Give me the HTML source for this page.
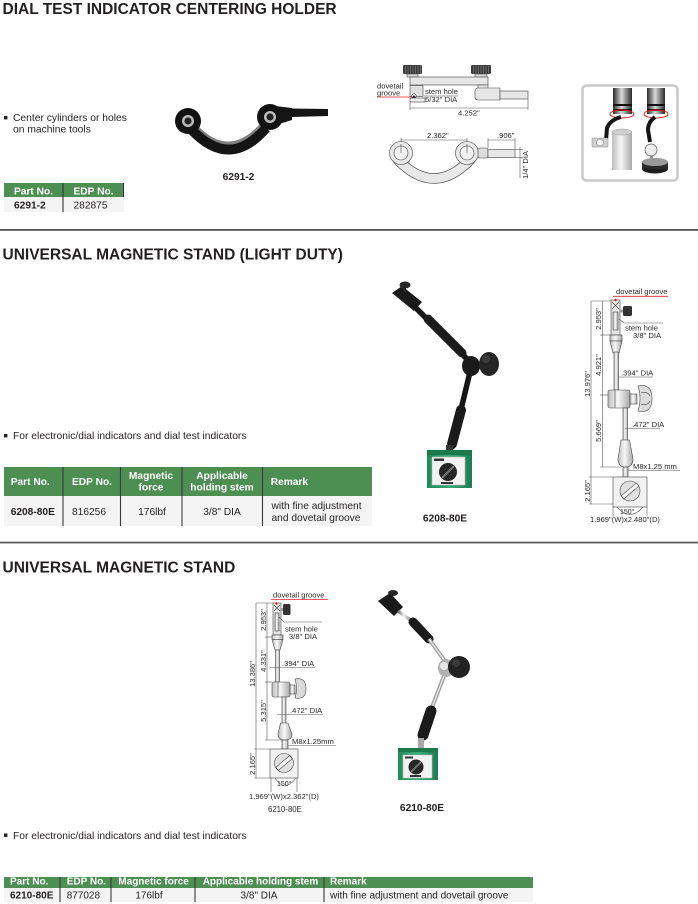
<!DOCTYPE html>
<html><head><meta charset="utf-8">
<style>
html,body{margin:0;padding:0;background:#fff;}
svg{display:block;}
text{font-family:"Liberation Sans",Arial,sans-serif;fill:#231f20;}
.t{font-size:15.5px;font-weight:bold;}
.b{font-size:10.3px;}
.th{font-size:10.2px;font-weight:bold;fill:#fff;}
.td{font-size:10.2px;}
.tdb{font-size:10.2px;font-weight:bold;}
.d{font-size:7.6px;fill:#2a2a2a;}
.dl{stroke:#555;stroke-width:0.6;fill:none;}
.ol{stroke:#444;stroke-width:0.6;}
</style></head><body>
<svg width="698" height="904" viewBox="0 0 698 904" xmlns="http://www.w3.org/2000/svg">
<defs>
 <linearGradient id="pole" x1="0" x2="1" y1="0" y2="0">
  <stop offset="0" stop-color="#bdbdbd"/><stop offset=".45" stop-color="#f7f7f7"/><stop offset="1" stop-color="#a8a8a8"/>
 </linearGradient>
 <linearGradient id="chrome" x1="0" x2="1" y1="0" y2="0">
  <stop offset="0" stop-color="#6e6e6e"/><stop offset=".4" stop-color="#f2f2f2"/><stop offset=".75" stop-color="#a0a0a0"/><stop offset="1" stop-color="#5a5a5a"/>
 </linearGradient>
 <linearGradient id="dark" x1="0" x2="1" y1="0" y2="0">
  <stop offset="0" stop-color="#2a2a2a"/><stop offset=".45" stop-color="#d8d8d8"/><stop offset="1" stop-color="#2a2a2a"/>
 </linearGradient>
 <linearGradient id="green" x1="0" x2="1" y1="0" y2="0">
  <stop offset="0" stop-color="#1f8a58"/><stop offset=".5" stop-color="#3aab78"/><stop offset="1" stop-color="#1c7d4f"/>
 </linearGradient>
</defs>

<!-- ===== SECTION 1 ===== -->
<text x="2.5" y="14" class="t">DIAL TEST INDICATOR CENTERING HOLDER</text>

<rect x="4" y="116" width="3.4" height="3.4" fill="#231f20"/>
<text x="13" y="121" class="b">Center cylinders or holes</text>
<text x="13" y="132.5" class="b">on machine tools</text>

<!-- table 1 -->
<rect x="4" y="183" width="120" height="14" fill="#4d8e53"/>
<rect x="4" y="197" width="120" height="15" fill="#f4f4f4"/>
<line x1="63" y1="183" x2="63" y2="212" stroke="#333" stroke-width="1.1"/>
<line x1="123.5" y1="183" x2="123.5" y2="197" stroke="#333" stroke-width="1"/>
<text x="14" y="194.3" class="th">Part No.</text>
<text x="73.5" y="194.3" class="th">EDP No.</text>
<text x="14" y="208.3" class="tdb">6291-2</text>
<text x="73.5" y="208.3" class="td">282875</text>

<!-- centering holder photo -->
<g>
 <path d="M192 130 Q230 170 266 128" stroke="#141414" stroke-width="10" fill="none"/>
 <path d="M198 128 Q230 160 262 124" stroke="#2a2a2a" stroke-width="3" fill="none" opacity=".6"/>
 <circle cx="188" cy="121" r="13" fill="#121212"/>
 <circle cx="188" cy="121" r="6" fill="#bdbdbd"/>
 <circle cx="188" cy="121" r="3.6" fill="#222"/>
 <circle cx="270" cy="117" r="13" fill="#121212"/>
 <circle cx="270" cy="117" r="6" fill="#bdbdbd"/>
 <circle cx="270" cy="117" r="3.6" fill="#222"/>
 <path d="M275 106 L292 108 L292 120 L279 124 Z" fill="#151515"/>
 <path d="M291 108.5 L328 109 L328 116 L291 117 Z" fill="#151515"/>
</g>
<text x="238.5" y="180" class="tdb" text-anchor="middle">6291-2</text>

<!-- top technical drawing -->
<g>
 <!-- knobs -->
 <rect x="403" y="65" width="19" height="9" rx="1.5" fill="#3a3a3a"/>
 <g stroke="#999" stroke-width="0.5">
  <line x1="405.5" y1="65.5" x2="405.5" y2="73.5"/><line x1="408" y1="65.5" x2="408" y2="73.5"/><line x1="410.5" y1="65.5" x2="410.5" y2="73.5"/><line x1="413" y1="65.5" x2="413" y2="73.5"/><line x1="415.5" y1="65.5" x2="415.5" y2="73.5"/><line x1="418" y1="65.5" x2="418" y2="73.5"/><line x1="420.5" y1="65.5" x2="420.5" y2="73.5"/>
 </g>
 <rect x="471" y="65" width="20" height="9" rx="1.5" fill="#3a3a3a"/>
 <g stroke="#999" stroke-width="0.5">
  <line x1="473.5" y1="65.5" x2="473.5" y2="73.5"/><line x1="476" y1="65.5" x2="476" y2="73.5"/><line x1="478.5" y1="65.5" x2="478.5" y2="73.5"/><line x1="481" y1="65.5" x2="481" y2="73.5"/><line x1="483.5" y1="65.5" x2="483.5" y2="73.5"/><line x1="486" y1="65.5" x2="486" y2="73.5"/><line x1="488.5" y1="65.5" x2="488.5" y2="73.5"/>
 </g>
 <rect x="407" y="74" width="11" height="3" fill="#ddd" class="ol"/>
 <rect x="475" y="74" width="12" height="3" fill="#ddd" class="ol"/>
 <rect x="410" y="77" width="78" height="8" fill="#e6e6e6" class="ol"/>
 <rect x="478" y="85" width="10" height="4" fill="#e6e6e6" class="ol"/>
 <rect x="410" y="85.5" width="13" height="11" fill="#e0e0e0" class="ol"/>
 <circle cx="414" cy="96" r="2.2" fill="#fff" stroke="#333" stroke-width="0.6"/>
 <path d="M411.5 98 L416.5 98 L414 95 Z" fill="#333"/>
 <rect x="410" y="98" width="15" height="4" fill="#eee" class="ol"/>
 <path d="M478 88 L500 88 L500 100 L478 100 Q475 100 475 97 L475 91 Q475 88 478 88 Z" fill="#e6e6e6" class="ol"/>
 <rect x="500" y="91" width="28" height="8" fill="#e6e6e6" class="ol"/>
 <line x1="377" y1="97" x2="413" y2="97" stroke="#e0202a" stroke-width="0.8"/>
 <text x="377" y="88.5" class="d" fill="#4a2c2a">dovetail</text>
 <text x="377" y="95.3" class="d">groove</text>
 <text x="425" y="94" class="d">stem hole</text>
 <line x1="424" y1="96" x2="458" y2="96" stroke="#333" stroke-width="0.5"/>
 <text x="425" y="102" class="d">5/32" DIA</text>
 <line x1="410" y1="108" x2="528" y2="108" class="dl"/>
 <line x1="410" y1="102" x2="410" y2="110" class="dl"/>
 <line x1="528" y1="99" x2="528" y2="110" class="dl"/>
 <text x="458" y="115.5" class="d">4.252"</text>

 <!-- bottom view -->
 <line x1="401" y1="140" x2="467" y2="140" class="dl"/>
 <line x1="401" y1="138" x2="401" y2="152" class="dl"/>
 <line x1="467" y1="138" x2="467" y2="152" class="dl"/>
 <text x="427" y="138" class="d">2.362"</text>
 <path d="M397 159 Q434 198 471 159" stroke="#555" stroke-width="10.5" fill="none"/>
 <path d="M397 159 Q434 198 471 159" stroke="#e8e8e8" stroke-width="9" fill="none"/>
 <circle cx="401" cy="153" r="11.5" fill="#e8e8e8" class="ol"/>
 <circle cx="401" cy="153" r="7" fill="#f2f2f2" class="ol"/>
 <line x1="401" y1="144" x2="401" y2="153" class="ol"/>
 <circle cx="467" cy="153" r="11.5" fill="#e8e8e8" class="ol"/>
 <circle cx="467" cy="153" r="7" fill="#f2f2f2" class="ol"/>
 <line x1="467" y1="144" x2="467" y2="153" class="ol"/>
 <rect x="478" y="148" width="10" height="10" rx="2" fill="#ddd" class="ol"/>
 <rect x="488" y="149.5" width="27" height="8" fill="#e8e8e8" class="ol"/>
 <line x1="488" y1="140" x2="515" y2="140" class="dl"/>
 <line x1="488" y1="138" x2="488" y2="148" class="dl"/>
 <line x1="515" y1="138" x2="515" y2="149" class="dl"/>
 <text x="497" y="138" class="d">.906"</text>
 <line x1="515" y1="149.5" x2="523" y2="149.5" class="dl"/>
 <line x1="515" y1="157.5" x2="523" y2="157.5" class="dl"/>
 <line x1="520" y1="147" x2="520" y2="178" class="dl"/>
 <text transform="translate(528 165) rotate(-90)" class="d" text-anchor="middle">1/4" DIA</text>
</g>

<!-- top right photo box -->
<g>
 <rect x="582.5" y="85.5" width="95" height="95" rx="4" fill="#fff" stroke="#c8c8c8" stroke-width="2.5"/>
 <rect x="613" y="88" width="19" height="26" fill="url(#dark)"/>
 <rect x="613" y="104" width="19" height="2" fill="#111"/>
 <rect x="613" y="109" width="19" height="2" fill="#111"/>
 <ellipse cx="622" cy="114" rx="12" ry="4" fill="none" stroke="#e02020" stroke-width="1"/>
 <rect x="647" y="88" width="18" height="26" fill="url(#dark)"/>
 <rect x="647" y="104" width="18" height="2" fill="#111"/>
 <rect x="647" y="109" width="18" height="2" fill="#111"/>
 <ellipse cx="656" cy="114" rx="12" ry="4" fill="none" stroke="#e02020" stroke-width="1"/>
 <path d="M621 117 Q610 120 607 128 L606 140" stroke="#151515" stroke-width="4" fill="none"/>
 <rect x="612" y="132" width="20" height="38" fill="url(#pole)"/>
 <ellipse cx="622" cy="132" rx="10" ry="3" fill="#cfcfcf" stroke="#999" stroke-width="0.5"/>
 <rect x="592" y="138" width="16" height="9" rx="1" fill="#d0d0d0" stroke="#888" stroke-width="0.5"/>
 <circle cx="600" cy="142.5" r="3.5" fill="#f4f4f4" stroke="#666" stroke-width="0.5"/>
 <path d="M655 117 Q648 122 648 130 L650 142" stroke="#151515" stroke-width="4" fill="none"/>
 <rect x="650" y="154" width="3" height="10" fill="#999"/>
 <circle cx="651" cy="150" r="6" fill="#eee" stroke="#555" stroke-width="0.7"/>
 <ellipse cx="655" cy="169" rx="13" ry="4.5" fill="#1e1e1e"/>
 <rect x="642" y="162" width="26" height="7" fill="#2a2a2a"/>
 <ellipse cx="655" cy="162" rx="13" ry="4" fill="#9a9a9a"/>
</g>

<rect x="0" y="229" width="698" height="1.8" fill="#555"/>

<!-- ===== SECTION 2 ===== -->
<text x="2.5" y="259.3" class="t">UNIVERSAL MAGNETIC STAND (LIGHT DUTY)</text>

<rect x="4" y="434" width="3.4" height="3.4" fill="#231f20"/>
<text x="13" y="439" class="b">For electronic/dial indicators and dial test indicators</text>

<!-- table 2 -->
<rect x="4" y="467" width="368" height="29" fill="#4d8e53"/>
<rect x="4" y="496" width="368" height="30" fill="#f4f4f4"/>
<g stroke="#3a3a3a" stroke-width="1.1">
 <line x1="63" y1="467" x2="63" y2="526"/>
 <line x1="120.5" y1="467" x2="120.5" y2="526"/>
 <line x1="182" y1="467" x2="182" y2="526"/>
 <line x1="262.5" y1="467" x2="262.5" y2="526"/>
</g>
<text x="10.7" y="485" class="th">Part No.</text>
<text x="72" y="485" class="th">EDP No.</text>
<text x="151" y="479" class="th" text-anchor="middle">Magnetic</text>
<text x="151" y="490.7" class="th" text-anchor="middle">force</text>
<text x="222" y="479" class="th" text-anchor="middle">Applicable</text>
<text x="222" y="490.7" class="th" text-anchor="middle">holding stem</text>
<text x="270.7" y="485" class="th">Remark</text>
<text x="10.7" y="515" class="tdb">6208-80E</text>
<text x="72" y="515" class="td">816256</text>
<text x="152" y="515" class="td" text-anchor="middle">176lbf</text>
<text x="222" y="515" class="td" text-anchor="middle">3/8" DIA</text>
<text x="271.5" y="509" class="td">with fine adjustment</text>
<text x="271.5" y="521" class="td">and dovetail groove</text>

<!-- photo 6208-80E -->
<g>
 <path d="M392 293 L402 286 L422 302 L414 311 Z" fill="#1a1a1a"/>
 <ellipse cx="405" cy="285" rx="5.5" ry="3.5" fill="#262626"/>
 <rect x="403" y="287" width="3" height="5" fill="#222"/>
 <line x1="414" y1="306" x2="468" y2="360" stroke="#151515" stroke-width="5.5" stroke-linecap="round"/>
 <line x1="428" y1="319" x2="462" y2="353" stroke="#1b1b1b" stroke-width="9" stroke-linecap="round"/>
 <line x1="470" y1="372" x2="452" y2="447" stroke="#151515" stroke-width="5.5" stroke-linecap="round"/>
 <line x1="461" y1="410" x2="452" y2="444" stroke="#1b1b1b" stroke-width="10" stroke-linecap="round"/>
 <ellipse cx="471" cy="366" rx="9" ry="10" fill="#1a1a1a"/>
 <ellipse cx="489" cy="364" rx="10" ry="12" fill="#252525"/>
 <ellipse cx="486" cy="359" rx="4" ry="4" fill="#3c3c3c"/>
 <rect x="446" y="445" width="7" height="6" fill="#333"/>
 <rect x="427" y="450" width="45" height="38" fill="url(#green)"/>
 <rect x="427" y="450" width="45" height="5" fill="#1b7a4c"/>
 <rect x="432" y="457" width="33" height="28" fill="#f2f2f2" stroke="#bdbdbd" stroke-width="0.6"/>
 <rect x="434" y="458.5" width="10" height="2.5" fill="#333"/>
 <circle cx="448" cy="472" r="9" fill="#262626"/>
 <line x1="442" y1="478" x2="454" y2="466" stroke="#777" stroke-width="2"/>
 <rect x="441" y="482" width="12" height="2" fill="#333"/>
</g>
<text x="445" y="521.5" class="tdb" text-anchor="middle">6208-80E</text>

<!-- drawing 6208-80E -->
<g>
 <text x="616" y="294" class="d">dovetail groove</text>
 <line x1="613" y1="296.3" x2="668" y2="296.3" stroke="#e0202a" stroke-width="0.8"/>
 <line x1="591" y1="301" x2="611" y2="301" class="dl"/>
 <line x1="591" y1="301" x2="591" y2="504" class="dl"/>
 <line x1="589" y1="504" x2="613" y2="504" class="dl"/>
 <line x1="589" y1="477" x2="613" y2="477" class="dl"/>
 <text transform="translate(589.8 384) rotate(-90)" class="d" text-anchor="middle">13.976"</text>
 <text transform="translate(589.8 491) rotate(-90)" class="d" text-anchor="middle">2.165"</text>
 <line x1="602.5" y1="301" x2="602.5" y2="467" class="dl"/>
 <line x1="600" y1="335" x2="611" y2="335" class="dl"/>
 <line x1="600" y1="395" x2="608" y2="395" class="dl"/>
 <line x1="600" y1="467" x2="622" y2="467" class="dl"/>
 <text transform="translate(601.2 319) rotate(-90)" class="d" text-anchor="middle">2.953"</text>
 <text transform="translate(601.2 365) rotate(-90)" class="d" text-anchor="middle">4.921"</text>
 <text transform="translate(601.2 431) rotate(-90)" class="d" text-anchor="middle">5.669"</text>
 <!-- clamp -->
 <rect x="611" y="300" width="9" height="35" fill="#e6e6e6" class="ol"/>
 <path d="M612 302 L619 309 M619 302 L612 309" class="ol"/>
 <circle cx="615.5" cy="300" r="1.2" fill="#e0202a"/>
 <rect x="613" y="312" width="5" height="18" fill="url(#pole)" class="ol"/>
 <rect x="620" y="309.5" width="3" height="3" fill="#999"/>
 <rect x="623" y="306" width="9" height="10" rx="1.5" fill="#333"/>
 <path d="M619 319 L624 323 L663 323" class="dl"/>
 <text x="625" y="330.5" class="d">stem  hole</text>
 <text x="633" y="337.8" class="d">3/8" DIA</text>
 <!-- upper joint -->
 <rect x="610" y="335" width="12" height="6" fill="url(#pole)" class="ol"/>
 <path d="M610 341 L622 341 L619 353 L613 353 Z" fill="url(#pole)" class="ol"/>
 <rect x="614" y="352" width="4.5" height="38" fill="url(#pole)" class="ol"/>
 <line x1="618" y1="377" x2="653" y2="377" class="dl"/>
 <text x="621" y="375.5" class="d">.394" DIA</text>
 <!-- center block -->
 <rect x="608" y="390" width="22" height="18" rx="2" fill="url(#pole)" class="ol"/>
 <line x1="615" y1="390" x2="615" y2="408" class="ol"/>
 <rect x="630" y="394" width="7" height="10" fill="url(#pole)" class="ol"/>
 <path d="M638 386 Q652 383 652 398.5 Q652 414 638 411 Q642 398.5 638 386 Z" fill="#dcdcdc" class="ol"/>
 <path d="M641 393 Q648 391 650 396 M641 404 Q648 406 650 401" class="ol" fill="none"/>
 <rect x="623" y="408" width="4.5" height="32" fill="url(#pole)" class="ol"/>
 <line x1="625" y1="428.5" x2="660" y2="428.5" class="dl"/>
 <text x="632" y="427" class="d">.472" DIA</text>
 <path d="M621 440 L629.5 440 L633 459 Q633 467 625.5 467 Q618 467 618 459 Z" fill="url(#pole)" class="ol"/>
 <rect x="623" y="467" width="5" height="10" fill="url(#pole)" class="ol"/>
 <line x1="628" y1="470.5" x2="680" y2="470.5" class="dl"/>
 <text x="633" y="469" class="d">M8x1.25 mm</text>
 <!-- base -->
 <rect x="613" y="477" width="34" height="30" fill="#f2f2f2" class="ol"/>
 <circle cx="630" cy="491" r="10" fill="#e0e0e0" class="ol"/>
 <g transform="rotate(-40 630 491)"><rect x="620" y="489" width="20" height="4" fill="#f7f7f7" class="ol"/></g>
 <path d="M617 507 Q630 522 643 507" class="dl"/>
 <line x1="613" y1="507" x2="613" y2="516" class="dl"/>
 <line x1="647" y1="507" x2="647" y2="516" class="dl"/>
 <text x="620" y="514" class="d" style="font-size:7px">150°</text>
 <text x="590" y="522" class="d">1.969"(W)x2.480"(D)</text>
</g>

<rect x="0" y="541.7" width="698" height="1.7" fill="#555"/>

<!-- ===== SECTION 3 ===== -->
<text x="2.5" y="572.3" class="t">UNIVERSAL MAGNETIC STAND</text>

<!-- drawing 6210-80E -->
<g>
 <text x="273" y="597.5" class="d">dovetail groove</text>
 <line x1="271" y1="599.6" x2="328" y2="599.6" stroke="#e0202a" stroke-width="0.8"/>
 <line x1="256" y1="603" x2="273" y2="603" class="dl"/>
 <line x1="256" y1="603" x2="256" y2="778" class="dl"/>
 <line x1="254" y1="749" x2="271" y2="749" class="dl"/>
 <line x1="254" y1="778" x2="271" y2="778" class="dl"/>
 <text transform="translate(255 674) rotate(-90)" class="d" text-anchor="middle">13.386"</text>
 <text transform="translate(255 764) rotate(-90)" class="d" text-anchor="middle">2.165"</text>
 <line x1="267" y1="603" x2="267" y2="740" class="dl"/>
 <line x1="265" y1="637" x2="274" y2="637" class="dl"/>
 <line x1="265" y1="682" x2="272" y2="682" class="dl"/>
 <line x1="265" y1="740" x2="282" y2="740" class="dl"/>
 <text transform="translate(266 620) rotate(-90)" class="d" text-anchor="middle">2.953"</text>
 <text transform="translate(266 661) rotate(-90)" class="d" text-anchor="middle">4.331"</text>
 <text transform="translate(266 711) rotate(-90)" class="d" text-anchor="middle">5.315"</text>
 <!-- clamp -->
 <rect x="273" y="603" width="8" height="32" fill="#e6e6e6" class="ol"/>
 <path d="M274 605 L280 611 M280 605 L274 611" class="ol"/>
 <circle cx="276.5" cy="603.5" r="1.2" fill="#e0202a"/>
 <rect x="275" y="613" width="4" height="18" fill="url(#pole)" class="ol"/>
 <rect x="281" y="608" width="2.5" height="3" fill="#999"/>
 <rect x="283" y="604" width="7.5" height="11" rx="1.5" fill="#333"/>
 <path d="M279 617 L284 622 L322 622" class="dl"/>
 <text x="285" y="631.5" class="d">stem  hole</text>
 <text x="289" y="638.8" class="d">3/8" DIA</text>
 <rect x="272" y="635" width="11" height="4.5" fill="url(#pole)" class="ol"/>
 <path d="M272 639.5 L283 639.5 L280 650 L275 650 Z" fill="url(#pole)" class="ol"/>
 <rect x="275.5" y="650" width="4" height="32" fill="url(#pole)" class="ol"/>
 <line x1="270" y1="667.5" x2="315" y2="667.5" class="dl"/>
 <text x="282" y="666" class="d">.394" DIA</text>
 <rect x="272" y="682" width="18" height="15" rx="2" fill="url(#pole)" class="ol"/>
 <line x1="278" y1="682" x2="278" y2="697" class="ol"/>
 <rect x="290" y="685" width="5" height="9" fill="url(#pole)" class="ol"/>
 <path d="M295 679 Q306 677 306 688.5 Q306 700 295 698 Q298 688.5 295 679 Z" fill="#dcdcdc" class="ol"/>
 <rect x="282" y="697" width="4" height="27" fill="url(#pole)" class="ol"/>
 <line x1="277" y1="714.5" x2="323" y2="714.5" class="dl"/>
 <text x="290" y="713" class="d">.472" DIA</text>
 <path d="M280.5 723 L288 723 L292 734 Q292 740 285 740 Q278 740 278 734 Z" fill="url(#pole)" class="ol"/>
 <rect x="282" y="740" width="6" height="9" fill="url(#pole)" class="ol"/>
 <line x1="288" y1="745.5" x2="336" y2="745.5" class="dl"/>
 <text x="292" y="744" class="d">M8x1.25mm</text>
 <rect x="270" y="749" width="28" height="29" fill="#f2f2f2" class="ol"/>
 <circle cx="284" cy="763" r="9.5" fill="#e0e0e0" class="ol"/>
 <g transform="rotate(-40 284 763)"><rect x="275" y="761" width="18" height="4" fill="#f7f7f7" class="ol"/></g>
 <path d="M275 778 Q285 793 296 778" class="dl"/>
 <line x1="271" y1="778" x2="271" y2="792" class="dl"/>
 <line x1="297" y1="778" x2="297" y2="792" class="dl"/>
 <text x="277" y="786" class="d" style="font-size:7px">150°</text>
 <text x="249" y="799" class="d">1.969"(W)x2.362"(D)</text>
 <text x="268" y="812" class="d" style="font-size:7.8px">6210-80E</text>
</g>

<!-- photo 6210-80E -->
<g>
 <path d="M378 601 L390 593 L403 607 L394 616 Z" fill="#1a1a1a"/>
 <ellipse cx="393" cy="593" rx="5" ry="3" fill="#262626"/>
 <line x1="398" y1="611" x2="413" y2="622" stroke="url(#chrome)" stroke-width="3.5"/>
 <line x1="413" y1="622" x2="429" y2="639" stroke="#1a1a1a" stroke-width="9" stroke-linecap="round"/>
 <line x1="429" y1="639" x2="447" y2="664" stroke="#9a9a9a" stroke-width="4"/>
 <line x1="429" y1="639" x2="447" y2="664" stroke="#e6e6e6" stroke-width="1.5"/>
 <ellipse cx="446" cy="668" rx="8" ry="9" fill="#b0b0b0"/>
 <ellipse cx="444" cy="666" rx="4" ry="4" fill="#e8e8e8"/>
 <circle cx="459" cy="667" r="11" fill="#222"/>
 <circle cx="456" cy="663" r="4" fill="#3a3a3a"/>
 <line x1="444" y1="676" x2="431" y2="710" stroke="#9a9a9a" stroke-width="4"/>
 <line x1="444" y1="676" x2="431" y2="710" stroke="#e6e6e6" stroke-width="1.5"/>
 <line x1="431" y1="711" x2="423" y2="735" stroke="#1a1a1a" stroke-width="11" stroke-linecap="round"/>
 <rect x="418" y="738" width="6" height="11" fill="#a8a8a8"/>
 <rect x="398" y="748" width="40" height="32" fill="url(#green)"/>
 <rect x="398" y="748" width="40" height="4" fill="#1b7a4c"/>
 <rect x="403" y="755" width="29" height="23" fill="#f2f2f2" stroke="#bdbdbd" stroke-width="0.6"/>
 <rect x="405" y="756.5" width="8" height="2" fill="#333"/>
 <circle cx="416" cy="767" r="7.5" fill="#262626"/>
 <line x1="411" y1="772" x2="421" y2="762" stroke="#777" stroke-width="1.8"/>
 <rect x="410" y="775" width="11" height="2" fill="#333"/>
</g>
<text x="422" y="811" class="tdb" text-anchor="middle">6210-80E</text>

<rect x="4" y="833.5" width="3.4" height="3.4" fill="#231f20"/>
<text x="13" y="839" class="b">For electronic/dial indicators and dial test indicators</text>

<!-- table 3 -->
<rect x="4" y="877" width="529" height="11" fill="#4d8e53"/>
<rect x="4" y="888" width="529" height="14" fill="#f4f4f4"/>
<g stroke="#3a3a3a" stroke-width="1.1">
 <line x1="60" y1="877" x2="60" y2="902"/>
 <line x1="111" y1="877" x2="111" y2="902"/>
 <line x1="195" y1="877" x2="195" y2="902"/>
 <line x1="324" y1="877" x2="324" y2="902"/>
</g>
<text x="10" y="884.5" class="th" style="font-size:10px">Part No.</text>
<text x="66.7" y="884.5" class="th" style="font-size:10px">EDP No.</text>
<text x="118.3" y="884.5" class="th" style="font-size:10px">Magnetic force</text>
<text x="202.7" y="884.5" class="th" style="font-size:10px">Applicable holding stem</text>
<text x="330" y="884.5" class="th" style="font-size:10px">Remark</text>
<text x="10" y="898.3" class="tdb" style="font-size:10px">6210-80E</text>
<text x="66.7" y="898.3" class="td" style="font-size:10px">877028</text>
<text x="149" y="898.3" class="td" style="font-size:10px" text-anchor="middle">176lbf</text>
<text x="259" y="898.3" class="td" style="font-size:10px" text-anchor="middle">3/8" DIA</text>
<text x="330" y="898.3" class="td" style="font-size:10px">with fine adjustment and dovetail groove</text>
</svg>
</body></html>
